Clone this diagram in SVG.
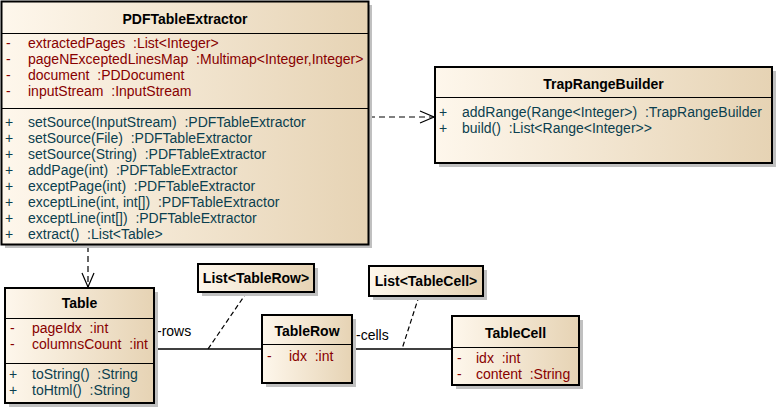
<svg xmlns="http://www.w3.org/2000/svg" width="779" height="409" viewBox="0 0 779 409">
<defs>
<linearGradient id="g" x1="0" y1="0" x2="1" y2="0">
<stop offset="0" stop-color="#FEF7EC"/>
<stop offset="1" stop-color="#E6D3B4"/>
</linearGradient>
<marker id="open" viewBox="0 0 16 14" refX="15" refY="7" markerWidth="16" markerHeight="14" markerUnits="userSpaceOnUse" orient="auto">
<path d="M1,1 L15,7 L1,13" fill="none" stroke="#000" stroke-width="1.2"/>
</marker>
<style>
text{font-family:"Liberation Sans",Arial,sans-serif;font-size:14px;white-space:pre}
.t{font-weight:bold;text-anchor:middle;fill:#000}
.a{fill:#880000}
.m{fill:#0B3F4F}
.l{fill:#000}
.box{fill:url(#g);stroke:#000;stroke-width:2}
.sh{fill:#C0C0C0}
.sep{stroke:#000;stroke-width:1}
.dep{fill:none;stroke:#000;stroke-width:1.2;stroke-dasharray:6,4}
.nl{fill:none;stroke:#000;stroke-width:1.2;stroke-dasharray:5,3}
.as{fill:none;stroke:#000;stroke-width:1.3}
</style>
</defs>
<rect width="779" height="409" fill="#fff"/>

<g id="connectors">
<path class="dep" d="M88,246 L88,287" marker-end="url(#open)"/>
<path class="dep" d="M369,117 L434,117" marker-end="url(#open)"/>
<path class="as" d="M154,349 L262,349"/>
<path class="as" d="M352,349 L452,349"/>
<path class="nl" d="M247,292 L208,349"/>
<path class="nl" d="M419,296 L402,349"/>
<text class="l" x="157" y="336">-rows</text>
<text class="l" x="356" y="340">-cells</text>
</g>

<g id="PDFTableExtractor">
<rect class="sh" x="5" y="5" width="367" height="243"/>
<rect class="box" x="1.5" y="1.5" width="367" height="243"/>
<line class="sep" x1="1.5" y1="33.5" x2="368.5" y2="33.5"/>
<line class="sep" x1="1.5" y1="108.5" x2="368.5" y2="108.5"/>
<text class="t" x="185" y="24">PDFTableExtractor</text>
<text class="a" x="6" y="48">-</text><text class="a" x="28" y="48">extractedPages  :List&lt;Integer&gt;</text>
<text class="a" x="6" y="64">-</text><text class="a" x="28" y="64">pageNExceptedLinesMap  :Multimap&lt;Integer,Integer&gt;</text>
<text class="a" x="6" y="80">-</text><text class="a" x="28" y="80">document  :PDDocument</text>
<text class="a" x="6" y="96">-</text><text class="a" x="28" y="96">inputStream  :InputStream</text>
<text class="m" x="5" y="127">+</text><text class="m" x="28" y="127">setSource(InputStream)  :PDFTableExtractor</text>
<text class="m" x="5" y="143">+</text><text class="m" x="28" y="143">setSource(File)  :PDFTableExtractor</text>
<text class="m" x="5" y="159">+</text><text class="m" x="28" y="159">setSource(String)  :PDFTableExtractor</text>
<text class="m" x="5" y="175">+</text><text class="m" x="28" y="175">addPage(int)  :PDFTableExtractor</text>
<text class="m" x="5" y="191">+</text><text class="m" x="28" y="191">exceptPage(int)  :PDFTableExtractor</text>
<text class="m" x="5" y="207">+</text><text class="m" x="28" y="207">exceptLine(int, int[])  :PDFTableExtractor</text>
<text class="m" x="5" y="223">+</text><text class="m" x="28" y="223">exceptLine(int[])  :PDFTableExtractor</text>
<text class="m" x="5" y="239">+</text><text class="m" x="28" y="239">extract()  :List&lt;Table&gt;</text>
</g>

<g id="TrapRangeBuilder">
<rect class="sh" x="439" y="71" width="337" height="96"/>
<rect class="box" x="435" y="67" width="337" height="96"/>
<line class="sep" x1="435" y1="97.5" x2="772" y2="97.5"/>
<text class="t" x="603.5" y="89">TrapRangeBuilder</text>
<text class="m" x="439" y="117">+</text><text class="m" x="462" y="117">addRange(Range&lt;Integer&gt;)  :TrapRangeBuilder</text>
<text class="m" x="439" y="133">+</text><text class="m" x="462" y="133">build()  :List&lt;Range&lt;Integer&gt;&gt;</text>
</g>

<g id="Table">
<rect class="sh" x="9" y="292" width="149" height="115"/>
<rect class="box" x="5" y="288" width="149" height="115"/>
<line class="sep" x1="5" y1="318.5" x2="154" y2="318.5"/>
<line class="sep" x1="5" y1="363.5" x2="154" y2="363.5"/>
<text class="t" x="79.5" y="308">Table</text>
<text class="a" x="10" y="333">-</text><text class="a" x="32" y="333">pageIdx  :int</text>
<text class="a" x="10" y="349">-</text><text class="a" x="32" y="349">columnsCount  :int</text>
<text class="m" x="9" y="379">+</text><text class="m" x="32" y="379">toString()  :String</text>
<text class="m" x="9" y="395">+</text><text class="m" x="32" y="395">toHtml()  :String</text>
</g>

<g id="TableRow">
<rect class="sh" x="266" y="319" width="90" height="68"/>
<rect class="box" x="262" y="315" width="90" height="68"/>
<line class="sep" x1="262" y1="344.5" x2="352" y2="344.5"/>
<text class="t" x="307" y="336">TableRow</text>
<text class="a" x="267" y="361">-</text><text class="a" x="289" y="361">idx  :int</text>
</g>

<g id="TableCell">
<rect class="sh" x="456" y="320" width="127" height="69"/>
<rect class="box" x="452" y="316" width="127" height="69"/>
<line class="sep" x1="452" y1="347.5" x2="579" y2="347.5"/>
<text class="t" x="515.5" y="338">TableCell</text>
<text class="a" x="457" y="363">-</text><text class="a" x="476" y="363">idx  :int</text>
<text class="a" x="457" y="379">-</text><text class="a" x="476" y="379">content  :String</text>
</g>

<g id="NoteTableRow">
<rect class="sh" x="202" y="268" width="116" height="28"/>
<rect class="box" x="198" y="264" width="116" height="28"/>
<text class="t" x="256" y="283">List&lt;TableRow&gt;</text>
</g>

<g id="NoteTableCell">
<rect class="sh" x="373" y="270" width="114" height="30"/>
<rect class="box" x="369" y="266" width="114" height="30"/>
<text class="t" x="426" y="286">List&lt;TableCell&gt;</text>
</g>
</svg>
